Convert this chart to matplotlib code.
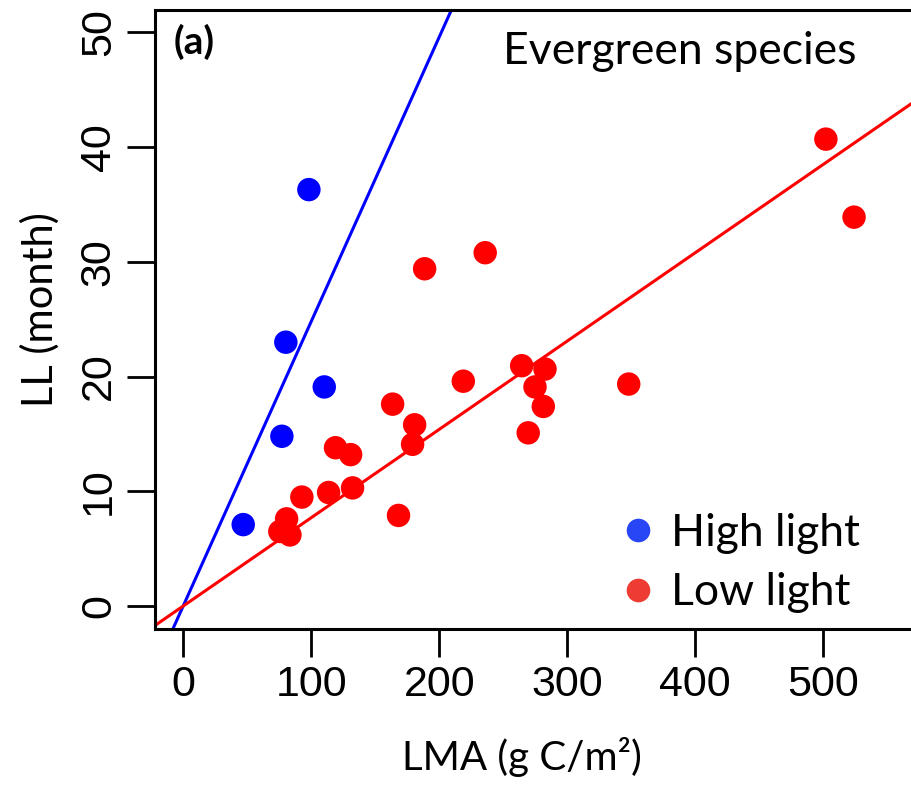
import matplotlib
matplotlib.use("Agg")
from matplotlib import pyplot as plt
from matplotlib.lines import Line2D

# LMA (g C/m2) and LL (month)
high_lma = [46.9, 77.1, 80.2, 98.2, 110.2]
high_ll = [7.1, 14.8, 23.0, 36.3, 19.1]

low_lma = [75.5, 80.8, 83.4, 92.7, 113.6, 119.0, 130.8, 132.3, 163.6, 168.2,
           179.2, 180.8, 188.6, 218.8, 235.9, 264.4, 269.5, 274.8, 281.3, 282.6,
           348.0, 502.0, 524.0]
low_ll = [6.5, 7.6, 6.2, 9.5, 9.9, 13.8, 13.2, 10.3, 17.6, 7.9,
          14.1, 15.8, 29.4, 19.6, 30.8, 20.95, 15.1, 19.1, 17.4, 20.66,
          19.35, 40.7, 33.9]

# slopes of the lines through the origin
high_slope = 0.248
low_slope = 0.0770

xticks = [0, 100, 200, 300, 400, 500]
yticks = [0, 10, 20, 30, 40, 50]

txt_font = ["Lato", "DejaVu Sans"]
num_font = ["Liberation Sans", "DejaVu Sans"]

W, H = 912, 786
fig = plt.figure(figsize=(W / 100, H / 100), dpi=100)
ax = fig.add_axes([155 / W, 1 - 629 / H, (915.5 - 155) / W, (629 - 9.5) / H])

ax.set_xlim(-22, 572)
ax.set_ylim(-2, 52)

ax.axline((0, 0), slope=high_slope, color="#0000ff", lw=2.2, zorder=2)
ax.axline((0, 0), slope=low_slope, color="#ff0000", lw=2.2, zorder=2)

ax.scatter(high_lma, high_ll, s=285, color="#0000ff", edgecolors="none", zorder=3)
ax.scatter(low_lma, low_ll, s=285, color="#ff0000", edgecolors="none", zorder=3)

ax.set_xticks(xticks)
ax.set_yticks(yticks)
ax.set_xticklabels([str(v) for v in xticks], fontsize=31, family=num_font)
ax.set_yticklabels([str(v) for v in yticks], fontsize=31, family=num_font,
                   rotation=90, va="center")
ax.tick_params(axis="both", length=20, width=2, color="black", pad=6)
for sp in ax.spines.values():
    sp.set_linewidth(2.2)

ax.text(0.024, 0.948, "(a)", transform=ax.transAxes, fontsize=28,
        fontweight="bold", family=txt_font, va="center", ha="left")
fig.text(680 / W, 1 - 52 / H, "Evergreen species", fontsize=32,
         family=txt_font, ha="center", va="center")

handles = [
    Line2D([], [], marker="o", ls="none", markersize=17, color="#2846f5",
           markeredgecolor="none", label="High light"),
    Line2D([], [], marker="o", ls="none", markersize=17, color="#ee3b33",
           markeredgecolor="none", label="Low light"),
]
leg = fig.legend(handles=handles, loc="center left",
                 bbox_to_anchor=(600 / W, 1 - 563 / H), frameon=False,
                 prop={"family": txt_font, "size": 32}, handletextpad=0.3,
                 labelspacing=0.42, handlelength=0.9, borderaxespad=0)

fig.text(522 / W, 1 - 757 / H, "LMA (g C/m²)", fontsize=29, family=txt_font,
         ha="center", va="center")
fig.text(40 / W, 1 - 310 / H, "LL (month)", fontsize=30, family=txt_font,
         ha="center", va="center", rotation=90)

fig.savefig("out.png", dpi=100)
